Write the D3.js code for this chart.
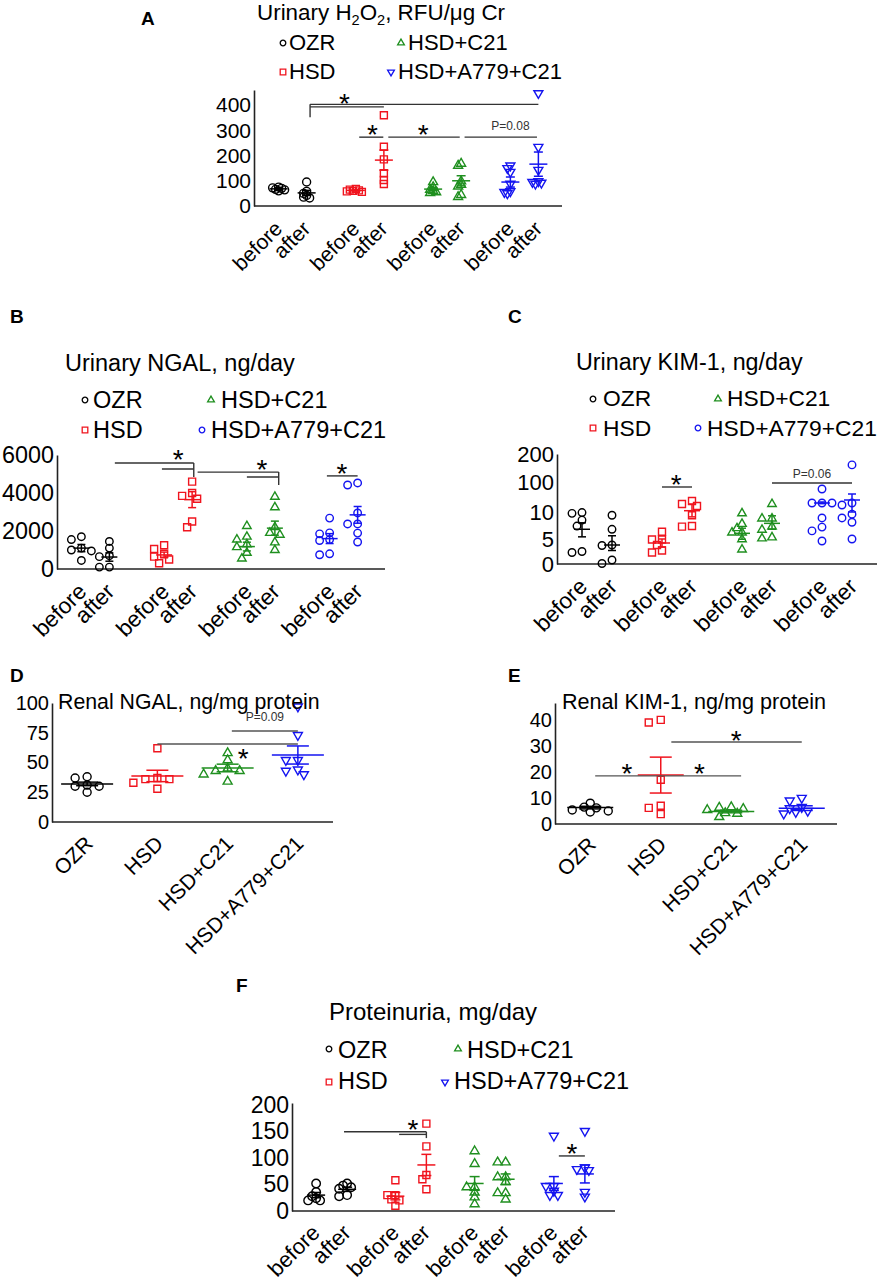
<!DOCTYPE html>
<html><head><meta charset="utf-8">
<script src="https://cdn.jsdelivr.net/npm/d3@7"></script>
<style>body{margin:0;background:#fff}svg{display:block}</style>
</head><body><svg id="c" width="879" height="1282"></svg>
<script>
// ---------- data ----------
const groups = ["OZR", "HSD", "HSD+C21", "HSD+A779+C21"];
const timepoints = ["before", "after"];
const groupColors = ["#000000", "#f0141e", "#1f8f1f", "#1414f0"];

// A: Urinary H2O2, RFU/ug Cr (before/after per group)
const aTicks = [0, 100, 200, 300, 400];
const aValues = [
  [75, 72, 70, 66, 64, 60],
  [95, 58, 50, 42, 35, 32],
  [68, 65, 62, 60, 58, 56],
  [360, 235, 185, 130, 103, 87],
  [95, 75, 65, 60, 55, 52],
  [168, 160, 98, 84, 78, 44, 36],
  [160, 150, 135, 88, 58, 55, 50],
  [447, 234, 143, 98, 95, 92, 88]
];
const aMean = [68, 52, 62, 182, 67, 100, 95, 166];
const aSem = [4, 10, 3, 40, 6, 20, 20, 48];

// B: Urinary NGAL, ng/day
const bTicks = [0, 2000, 4000, 6000];
const bValues = [
  [1700, 1550, 1100, 1000, 950, 450],
  [1450, 1100, 700, 650, 100, 100],
  [1250, 1050, 800, 650, 500, 300],
  [4600, 4000, 3850, 3700, 2500, 2200],
  [2260, 1700, 1550, 1300, 1150, 850, 550],
  [3800, 3250, 2200, 1900, 1800, 1400, 1000],
  [2680, 1900, 1850, 1550, 1500, 800, 750],
  [4530, 4420, 2950, 2370, 2370, 1890, 1420]
];
const bMean = [1100, 630, 740, 3650, 1180, 2150, 1600, 2850];
const bSem = [190, 220, 150, 420, 230, 370, 260, 440];

// C: Urinary KIM-1, ng/day (segmented axis)
const cTicks = [0, 5, 10, 100, 200];
const cValues = [
  [9.9, 9.75, 8.5, 7.4, 2.5, 2.3],
  [9.4, 6.8, 3.8, 3.7, 0.8, 0.1],
  [6.35, 4.9, 4.9, 3.8, 2.7, 2.3],
  [43, 34, 28, 9.4, 7.4, 7.3],
  [9.75, 7.8, 7.0, 6.2, 6.2, 4.95, 2.9],
  [34, 8.8, 8.8, 7.3, 6.7, 5.3, 5.1],
  [79, 37, 37, 37, 8.9, 7.2, 6.5, 4.6],
  [161, 37, 31, 9.6, 8.9, 8.1, 5]
];
const cMean = [6.8, 3.8, 4.2, 13.9, 6.05, 7.9, 37, 46];
const cLow = [5.4, 2.7, 3.4, 9.1, 4.95, 6.8, 35, 10];
const cHigh = [8.0, 5.6, 5.0, 34, 7.0, 9.3, 40, 64];

// D: Renal NGAL, ng/mg protein
const dTicks = [0, 25, 50, 75, 100];
const dValues = [
  [38, 37, 31, 30, 30, 25],
  [62, 37, 36, 36, 33, 28],
  [58, 52, 45, 43, 43, 40, 34],
  [97, 73, 52, 52, 44, 43, 40]
];
const dMean = [32, 38.7, 45.4, 56.3];
const dSem = [1.5, 4.8, 3.2, 7.6];

// E: Renal KIM-1, ng/mg protein
const eTicks = [0, 10, 20, 30, 40];
const eValues = [
  [8, 6.5, 6.2, 5.4, 5, 4.6],
  [40, 39, 17, 7, 6.2, 3.8],
  [6.5, 6.3, 5.8, 5.4, 4.2, 4.0, 2.7],
  [10, 9, 6.5, 6, 5, 4.6, 4]
];
const eMean = [6.3, 18.8, 4.8, 6.1];
const eSem = [0.5, 6.9, 0.5, 0.9];

// F: Proteinuria, mg/day
const fTicks = [0, 50, 100, 150, 200];
const fValues = [
  [52, 36, 28, 24, 20, 20],
  [52, 48, 45, 42, 30, 28],
  [58, 30, 30, 22, 20, 10],
  [165, 122, 68, 60, 41],
  [113, 89, 45, 45, 35, 26, 13],
  [92, 92, 64, 64, 55, 34, 34, 22],
  [142, 47, 47, 38, 30, 30],
  [151, 82, 79, 77, 36, 27]
];
const fMean = [30, 41, 28, 87, 52, 60, 52, 70];
const fSem = [5, 4, 7, 20, 13, 10, 13, 17];

// significance annotations: lines [slotFrom, slotTo, value], drops [slot, v1, v2], stars [slot, value], notes [slot, value, text]
const aLines = [[1.07, 7, 403], [1.07, 3, 393], [2.12, 2.98, 273], [3.09, 4.95, 273], [5.07, 6.95, 273]];
const aDrops = [[1.07, 403, 352]];
const aStars = [[1.77, 432], [2.59, 309], [3.8, 309]];
const aNotes = [[6.0, 301, "P=0.08"]];

const bLines = [[1.1, 3.03, 5580], [1.96, 3.03, 5260], [3.1, 5.07, 5100], [4.0, 5.07, 4840], [5.95, 7, 4900]];
const bDrops = [[3.03, 5580, 4840], [5.07, 5100, 4420]];
const bStars = [[2.5, 6100], [4.54, 5580], [6.44, 5370]];

const cLines = [[2, 3, 85], [5, 7, 97]];
const cStars = [[2.47, 114]];
const cNotes = [[5.8, 114, "P=0.06"]];

const dLines = [[2.06, 3, 76.5], [1, 3, 65.5]];
const dStars = [[2.22, 58.8]];
const dNotes = [[2.53, 84.9, "P=0.09"]];

const eLines = [[0.07, 2.14, 18.5], [1.15, 3, 31.5]];
const eStars = [[0.52, 21.9], [1.55, 21.9], [2.07, 34.6]];

const fLines = [[0.9, 3, 149.6], [2.12, 3, 144.7], [6.16, 7, 104]];
const fDrops = [[3, 149.6, 137.7]];
const fStars = [[2.57, 166], [6.58, 121]];

// ---------- drawing ----------
const FONT = '"Liberation Sans", Arial, Helvetica, sans-serif';
const svg = d3.select("#c").attr("font-family", FONT);

function symPath(shape, s) {
  if (shape === "circle") return d3.symbol(d3.symbolCircle, Math.PI * (s / 2) ** 2)();
  if (shape === "square") return d3.symbol(d3.symbolSquare, s * s)();
  return d3.symbol(d3.symbolTriangle, Math.sqrt(3) / 4 * s * s)();
}
function symTransform(shape, x, y) {
  return `translate(${x},${y})` + (shape === "tridown" ? " rotate(180)" : "");
}

function swarm(vals, y, cx, step, minDist) {
  const pts = vals.map(v => ({ v, y: y(v) })).sort((a, b) => a.y - b.y);
  const placed = [];
  pts.forEach(p => {
    for (let k = 0; k < 60; k++) {
      const off = k === 0 ? 0 : (k % 2 ? -1 : 1) * Math.ceil(k / 2) * step;
      const x = cx + off;
      if (placed.every(q => Math.hypot(q.x - x, q.y - p.y) >= minDist)) { p.x = x; break; }
    }
    placed.push(p);
  });
  return placed;
}

function drawPanel(p) {
  const g = svg.append("g");
  const y = p.y;
  const n = p.values.length;
  const paired = n === 8;
  const band = d3.scaleBand().domain(groups).range(p.band);
  const slotX = d3.range(n).map(i => {
    if (!paired) return band(groups[i]) + band.bandwidth() / 2;
    const c = band(groups[Math.floor(i / 2)]) + band.bandwidth() / 2;
    return c + (i % 2 ? p.off : -p.off);
  });
  const xAt = d3.scaleLinear().domain(d3.range(n)).range(slotX);
  const gi = i => paired ? Math.floor(i / 2) : i;
  const baseY = y.range()[0];

  // y axis
  g.append("g").attr("transform", `translate(${p.axisX[0]},0)`)
    .call(d3.axisLeft(y).tickValues(p.ticks).tickSize(0).tickPadding(3).tickFormat(d3.format("d")))
    .call(a => {
      a.attr("font-family", FONT).attr("font-size", p.tickFont);
      a.select(".domain").attr("stroke", "#222").attr("stroke-width", 1.6);
      a.selectAll("text").attr("fill", "#000");
    });
  // x axis line
  g.append("line").attr("x1", p.axisX[0]).attr("x2", p.axisX[1])
    .attr("y1", baseY).attr("y2", baseY).attr("stroke", "#222").attr("stroke-width", 1.6);

  // x labels, rotated -45deg, ending just below-right of each slot
  g.selectAll("text.xl").data(d3.range(n)).join("text").attr("class", "xl")
    .attr("transform", i => `translate(${slotX[i] + p.lab[0]},${baseY + p.lab[1]}) rotate(-45)`)
    .attr("text-anchor", "end").attr("font-size", p.labFont).attr("fill", "#000")
    .text(i => paired ? timepoints[i % 2] : groups[i]);

  // error bars
  d3.range(n).forEach(i => {
    const col = groupColors[gi(i)];
    const m = p.mean[i];
    const lo = p.low ? p.low[i] : m - p.sem[i];
    const hi = p.high ? p.high[i] : m + p.sem[i];
    const x = slotX[i];
    const eg = g.append("g").attr("stroke", col).attr("stroke-width", 1.5).attr("fill", "none");
    eg.append("line").attr("x1", x - p.meanHW).attr("x2", x + p.meanHW).attr("y1", y(m)).attr("y2", y(m));
    eg.append("line").attr("x1", x).attr("x2", x).attr("y1", y(lo)).attr("y2", y(hi));
    [lo, hi].forEach(v => eg.append("line").attr("x1", x - p.capHW).attr("x2", x + p.capHW).attr("y1", y(v)).attr("y2", y(v)));
  });

  // points
  d3.range(n).forEach(i => {
    const shape = p.shapes[gi(i)];
    const s = p.msize[shape === "tridown" ? "tri" : shape];
    const pts = swarm(p.values[i], y, slotX[i], p.step, p.minDist);
    g.append("g").selectAll("path").data(pts).join("path")
      .attr("d", symPath(shape, s))
      .attr("transform", d => symTransform(shape, d.x, d.y))
      .attr("fill", "none").attr("stroke", groupColors[gi(i)]).attr("stroke-width", 1.4);
  });

  // annotations
  const ag = g.append("g");
  (p.lines || []).forEach(([a, b, v]) => ag.append("line").attr("x1", xAt(a)).attr("x2", xAt(b))
    .attr("y1", y(v)).attr("y2", y(v)).attr("stroke", p.annColor).attr("stroke-width", 1.4));
  (p.drops || []).forEach(([a, v1, v2]) => ag.append("line").attr("x1", xAt(a)).attr("x2", xAt(a))
    .attr("y1", y(v1)).attr("y2", y(v2)).attr("stroke", p.annColor).attr("stroke-width", 1.4));
  (p.stars || []).forEach(([a, v]) => ag.append("text").attr("x", xAt(a)).attr("y", y(v) + 0.58 * p.starFont)
    .attr("text-anchor", "middle").attr("font-size", p.starFont).attr("fill", "#000").text("*"));
  (p.notes || []).forEach(([a, v, t]) => ag.append("text").attr("x", xAt(a)).attr("y", y(v))
    .attr("text-anchor", "middle").attr("font-size", 12).attr("fill", "#333").text(t));

  // title (with optional subscripts)
  if (p.title) {
    const t = svg.append("text").attr("x", p.title.x).attr("y", p.title.y)
      .attr("font-size", p.title.size).attr("fill", "#000");
    let lowered = false;
    p.title.parts.forEach(([txt, sub]) => {
      const ts = t.append("tspan").text(txt);
      if (sub) { ts.attr("font-size", p.title.size * 0.65).attr("dy", lowered ? 0 : 5); lowered = true; }
      else { ts.attr("dy", lowered ? -5 : 0); lowered = false; }
    });
  }
  // legend
  if (p.legend) {
    p.legend.items.forEach(([gIdx, mx, tx, row]) => {
      const shape = p.legendShapes[gIdx];
      const my = p.legend.rowMark[row];
      svg.append("path").attr("d", symPath(shape, shape === "circle" ? 5.6 : shape === "square" ? 5.6 : 6.8))
        .attr("transform", symTransform(shape, mx, my))
        .attr("fill", "none").attr("stroke", groupColors[gIdx]).attr("stroke-width", 1.3);
      svg.append("text").attr("x", tx).attr("y", p.legend.rowBase[row])
        .attr("font-size", p.legend.size).attr("fill", "#000").text(groups[gIdx]);
    });
  }
  // panel letter
  svg.append("text").attr("x", p.letter[1]).attr("y", p.letter[2]).attr("font-weight", "bold")
    .attr("font-size", 19).attr("fill", "#000").text(p.letter[0]);
}

const shapesTri = ["circle", "square", "tri", "tridown"];
const shapesCirc = ["circle", "square", "tri", "circle"];

drawPanel({
  letter: ["A", 141, 25],
  values: aValues, mean: aMean, sem: aSem, ticks: aTicks,
  y: d3.scaleLinear().domain([0, 460]).range([206, 90]),
  band: [254, 563], off: 14, axisX: [254, 562], tickFont: 21, labFont: 21, lab: [5, 24],
  shapes: shapesTri, legendShapes: shapesTri, msize: { circle: 8, square: 7, tri: 9 }, step: 3, minDist: 3.2,
  meanHW: 9, capHW: 4.5, annColor: "#333", starFont: 28,
  lines: aLines, drops: aDrops, stars: aStars, notes: aNotes,
  title: { x: 257, y: 20, size: 22.4, parts: [["Urinary H"], ["2", 1], ["O"], ["2", 1], [", RFU/\u03bcg Cr"]] },
  legend: { size: 22, rowMark: [43, 72], rowBase: [50, 79], items: [[0, 283, 289, 0], [2, 401, 408, 0], [1, 283, 289, 1], [3, 391, 398, 1]] }
});

drawPanel({
  letter: ["B", 10, 323],
  values: bValues, mean: bMean, sem: bSem, ticks: bTicks,
  y: d3.scaleLinear().domain([0, 6000]).range([569, 455]),
  band: [54, 385], off: 14, axisX: [57, 385], tickFont: 23.4, labFont: 22.5, lab: [6.5, 24],
  shapes: shapesCirc, legendShapes: shapesCirc, msize: { circle: 7.5, square: 7, tri: 8.5 }, step: 5, minDist: 6.5,
  meanHW: 8, capHW: 4, annColor: "#333", starFont: 28,
  lines: bLines, drops: bDrops, stars: bStars,
  title: { x: 65, y: 371, size: 23.5, parts: [["Urinary NGAL, ng/day"]] },
  legend: { size: 23.5, rowMark: [400, 430], rowBase: [408, 438], items: [[0, 85, 93, 0], [2, 211, 221, 0], [1, 85, 93, 1], [3, 202, 211, 1]] }
});

drawPanel({
  letter: ["C", 508, 323],
  values: cValues, mean: cMean, low: cLow, high: cHigh, ticks: cTicks,
  y: d3.scaleLinear().domain(cTicks).range([564, 539, 512, 482, 454]),
  band: [557, 877], off: 15, axisX: [557, 877], tickFont: 22, labFont: 22.5, lab: [6.5, 24],
  shapes: shapesCirc, legendShapes: shapesCirc, msize: { circle: 7.5, square: 7, tri: 8.5 }, step: 5, minDist: 6.5,
  meanHW: 8, capHW: 4, annColor: "#333", starFont: 28,
  lines: cLines, stars: cStars, notes: cNotes,
  title: { x: 576, y: 370, size: 23.3, parts: [["Urinary KIM-1, ng/day"]] },
  legend: { size: 22.8, rowMark: [399, 428], rowBase: [406, 436], items: [[0, 593, 603, 0], [2, 718, 727, 0], [1, 593, 603, 1], [3, 698, 707, 1]] }
});

drawPanel({
  letter: ["D", 10, 682],
  values: dValues, mean: dMean, sem: dSem, ticks: dTicks,
  y: d3.scaleLinear().domain([0, 100]).range([822, 703]),
  band: [52, 333], off: 0, axisX: [52, 333], tickFont: 20, labFont: 21, lab: [7, 23],
  shapes: shapesTri, msize: { circle: 8, square: 7, tri: 9 }, step: 6, minDist: 7,
  meanHW: 26, capHW: 11, annColor: "#555", starFont: 28,
  lines: dLines, stars: dStars, notes: dNotes,
  title: { x: 58, y: 709, size: 21.3, parts: [["Renal NGAL, ng/mg protein"]] }
});

drawPanel({
  letter: ["E", 508, 682],
  values: eValues, mean: eMean, sem: eSem, ticks: eTicks,
  y: d3.scaleLinear().domain([0, 46.5]).range([824, 703]),
  band: [555, 837], off: 0, axisX: [555, 837], tickFont: 20, labFont: 21, lab: [7, 22],
  shapes: shapesTri, msize: { circle: 8, square: 7, tri: 9 }, step: 6, minDist: 7,
  meanHW: 23, capHW: 11, annColor: "#555", starFont: 28,
  lines: eLines, stars: eStars,
  title: { x: 562, y: 709, size: 21.6, parts: [["Renal KIM-1, ng/mg protein"]] }
});

drawPanel({
  letter: ["F", 236, 992],
  values: fValues, mean: fMean, sem: fSem, ticks: fTicks,
  y: d3.scaleLinear().domain([0, 204]).range([1211, 1103]),
  band: [292, 609], off: 15.5, axisX: [292, 615], tickFont: 23, labFont: 22, lab: [5, 23],
  shapes: shapesTri, legendShapes: shapesTri, msize: { circle: 8.5, square: 7, tri: 9 }, step: 4, minDist: 4.5,
  meanHW: 9, capHW: 5, annColor: "#333", starFont: 28,
  lines: fLines, drops: fDrops, stars: fStars,
  title: { x: 329, y: 1020, size: 24, parts: [["Proteinuria, mg/day"]] },
  legend: { size: 23.5, rowMark: [1049, 1082], rowBase: [1058, 1089], items: [[0, 329, 338, 0], [2, 458, 467, 0], [1, 329, 338, 1], [3, 445, 454, 1]] }
});
</script></body></html>
